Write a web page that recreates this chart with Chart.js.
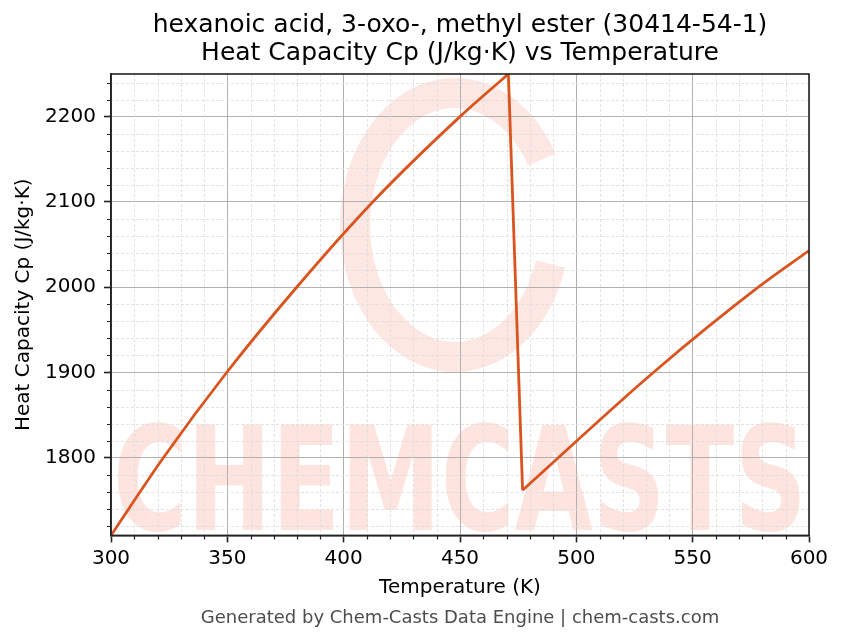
<!DOCTYPE html>
<html>
<head>
<meta charset="utf-8">
<script src="https://cdn.jsdelivr.net/npm/chart.js@4/dist/chart.umd.min.js"></script>
<style>
  html, body { margin: 0; padding: 0; background: #fff; }
</style>
</head>
<body>
<canvas id="grafico" width="843" height="644"></canvas>
<script>
// Datos (T en K, Cp en J/kg·K)
const tempTramo1 = [300, 322.5, 349.7, 379.8, 412.5, 450, 470.8];
const cpTramo1 = [1709, 1800, 1900, 2000, 2100, 2200, 2250];
const tempTramo2 = [476.9, 533.1, 578.2, 600];
const cpTramo2 = [1762, 1900, 2000, 2043];

const ticksX = [300, 350, 400, 450, 500, 550, 600];
const ticksY = [1800, 1900, 2000, 2100, 2200];

const titulo = ["hexanoic acid, 3-oxo-, methyl ester (30414-54-1)", "Heat Capacity Cp (J/kg·K) vs Temperature"];
const pie = "Generated by Chem-Casts Data Engine | chem-casts.com";

const colorLinea = "#d9541e";
Chart.defaults.font.family = "'DejaVu Sans', sans-serif";

const puntos = (xs, ys) => xs.map((t, i) => ({ x: t, y: ys[i] }));

// Marca de agua (fondo)
const marcaAgua = {
    id: "marcaAgua",
    beforeDraw(chart) {
        const { ctx, chartArea: a } = chart;
        ctx.save();
        ctx.beginPath();
        ctx.rect(a.left, a.top, a.right - a.left, a.bottom - a.top);
        ctx.clip();
        ctx.strokeStyle = "rgba(250,185,172,0.35)";
        ctx.lineWidth = 30;
        ctx.beginPath();
        ctx.ellipse(455, 225, 100, 132, 0, -0.52, 0.3, true);
        ctx.stroke();
        ctx.font = "bold 144px 'DejaVu Sans'";
        const w = ctx.measureText("CHEMCASTS").width;
        ctx.translate(a.left + 2, 530);
        ctx.scale((a.right - a.left - 4) / w, 1);
        ctx.fillStyle = "rgba(250,185,172,0.38)";
        ctx.fillText("CHEMCASTS", 0, 0);
        ctx.restore();
    }
};

// Rejilla menor, ticks menores y marco
const rejillaMenor = {
    id: "rejillaMenor",
    beforeDatasetsDraw(chart) {
        const { ctx, chartArea: a, scales: { x, y } } = chart;
        ctx.save();
        ctx.strokeStyle = "#dcdcdc";
        ctx.lineWidth = 0.8;
        ctx.setLineDash([3, 2]);
        ctx.beginPath();
        for (let v = 310; v < 600; v += 10) {
            if (v % 50 === 0) continue;
            const px = Math.round(x.getPixelForValue(v)) + 0.5;
            ctx.moveTo(px, a.top);
            ctx.lineTo(px, a.bottom);
        }
        for (let v = 1720; v < 2250; v += 20) {
            if (v % 100 === 0) continue;
            const py = Math.round(y.getPixelForValue(v)) + 0.5;
            ctx.moveTo(a.left, py);
            ctx.lineTo(a.right, py);
        }
        ctx.stroke();
        ctx.restore();
    },
    afterDraw(chart) {
        const { ctx, chartArea: a, scales: { x, y } } = chart;
        ctx.save();
        ctx.strokeStyle = "#222";
        ctx.lineWidth = 1.2;
        ctx.beginPath();
        for (let v = 310; v < 600; v += 10) {
            if (v % 50 === 0) continue;
            const px = Math.round(x.getPixelForValue(v)) + 0.5;
            ctx.moveTo(px, a.bottom);
            ctx.lineTo(px, a.bottom + 4);
        }
        for (let v = 1720; v < 2250; v += 20) {
            if (v % 100 === 0) continue;
            const py = Math.round(y.getPixelForValue(v)) + 0.5;
            ctx.moveTo(a.left, py);
            ctx.lineTo(a.left - 4, py);
        }
        ctx.stroke();
        ctx.lineWidth = 1.6;
        ctx.strokeRect(a.left, a.top, a.right - a.left, a.bottom - a.top);
        ctx.restore();
    }
};

const fuenteTicks = { size: 20 };

new Chart(document.getElementById("grafico"), {
    type: "line",
    data: {
        datasets: [
            {
                data: puntos(tempTramo1, cpTramo1),
                borderColor: colorLinea,
                borderWidth: 2.8,
                pointRadius: 0,
                cubicInterpolationMode: "monotone"
            },
            {
                data: [
                    { x: tempTramo1[tempTramo1.length - 1], y: cpTramo1[cpTramo1.length - 1] },
                    { x: tempTramo2[0], y: cpTramo2[0] }
                ],
                borderColor: colorLinea,
                borderWidth: 2.8,
                pointRadius: 0
            },
            {
                data: puntos(tempTramo2, cpTramo2),
                borderColor: colorLinea,
                borderWidth: 2.8,
                pointRadius: 0,
                cubicInterpolationMode: "monotone"
            }
        ]
    },
    options: {
        responsive: false,
        animation: false,
        layout: { padding: { left: 0, right: 34, top: 0, bottom: 0 } },
        plugins: {
            legend: { display: false },
            tooltip: { enabled: false },
            title: {
                display: true,
                fullSize: false,
                text: titulo,
                color: "#000",
                font: { size: 25, weight: "normal", lineHeight: 1.12 },
                padding: { top: 11, bottom: 7 }
            },
            subtitle: {
                display: true,
                position: "bottom",
                fullSize: false,
                text: pie,
                color: "#4d4d4d",
                font: { size: 18, weight: "normal", lineHeight: 1.2 },
                padding: { top: 0, bottom: 15 }
            }
        },
        scales: {
            x: {
                type: "linear",
                min: 300,
                max: 600,
                afterBuildTicks: s => { s.ticks = ticksX.map(v => ({ value: v })); },
                afterFit: s => { s.height = 72; },
                ticks: { font: fuenteTicks, color: "#000", padding: 4, maxRotation: 0, callback: v => String(v) },
                grid: { color: "#b0b0b0", lineWidth: 1, tickLength: 7, tickColor: "#222", tickWidth: 1.6 },
                border: { color: "#222", width: 1.6 },
                title: { display: true, text: "Temperature (K)", color: "#000", font: { size: 20 }, padding: { top: 0, bottom: 8 } }
            },
            y: {
                type: "linear",
                min: 1709,
                max: 2250,
                afterBuildTicks: s => { s.ticks = ticksY.map(v => ({ value: v })); },
                afterFit: s => { s.width = 111; },
                ticks: { font: fuenteTicks, color: "#000", padding: 8, callback: v => String(v) },
                grid: { color: "#b0b0b0", lineWidth: 1, tickLength: 7, tickColor: "#222", tickWidth: 1.6 },
                border: { color: "#222", width: 1.6 },
                title: { display: true, text: "Heat Capacity Cp (J/kg·K)", color: "#000", font: { size: 20 }, padding: { top: 12, bottom: 0 } }
            }
        }
    },
    plugins: [marcaAgua, rejillaMenor]
});
</script>
</body>
</html>
